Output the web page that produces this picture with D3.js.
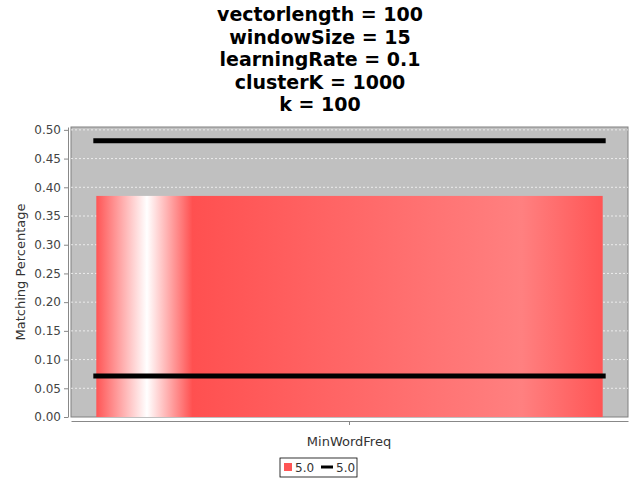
<!DOCTYPE html>
<html><head><meta charset="utf-8">
<script src="https://cdn.jsdelivr.net/npm/d3@7"></script>
<style>body{margin:0;background:#fff}</style>
</head><body>
<div id="chart"></div>
<script>
// chart data
const titleLines = ["vectorlength = 100", "windowSize = 15", "learningRate = 0.1", "clusterK = 1000", "k = 100"];
const categories = ["MinWordFreq"];
const barValues = [0.385];
const lineTop = [0.481];
const lineBottom = [0.0714];
const yTicks = [0, 0.05, 0.1, 0.15, 0.2, 0.25, 0.3, 0.35, 0.4, 0.45, 0.5];

const width = 640, height = 480;
const plot = {left: 71, right: 628, top: 127, bottom: 417};

const svg = d3.select("#chart").append("svg")
    .attr("width", width).attr("height", height)
    .style("font-family", "DejaVu Sans, sans-serif");

// title
svg.append("g").selectAll("text").data(titleLines).enter().append("text")
    .attr("x", 320).attr("y", (d, i) => 21 + i * 22.5)
    .attr("text-anchor", "middle").attr("font-size", "19px").attr("font-weight", "bold")
    .text(d => d);

const y = d3.scaleLinear().domain([0, 0.505]).range([plot.bottom, plot.top]);
const x = d3.scaleBand().domain(categories).range([plot.left, plot.right]).paddingInner(0).paddingOuter(0.05);

// plot background
svg.append("rect").attr("x", plot.left).attr("y", plot.top)
    .attr("width", plot.right - plot.left).attr("height", plot.bottom - plot.top)
    .attr("fill", "#c0c0c0").attr("stroke", "#808080");

// grid
svg.append("g").selectAll("line").data(yTicks.slice(1)).enter().append("line")
    .attr("x1", plot.left).attr("x2", plot.right)
    .attr("y1", d => y(d)).attr("y2", d => y(d))
    .attr("stroke", "#ffffff").attr("stroke-dasharray", "2,2").attr("stroke-width", 0.7);

// gradient for bar
const grad = svg.append("defs").append("linearGradient").attr("id", "barGrad")
    .attr("x1", "0%").attr("x2", "100%").attr("y1", "0%").attr("y2", "0%");
[[0, "#ff5555"], [0.1, "#ffffff"], [0.19, "#ff5050"], [0.84, "#ff8080"], [1, "#ff5555"]]
    .forEach(s => grad.append("stop").attr("offset", s[0]).attr("stop-color", s[1]));

svg.append("g").selectAll("rect").data(barValues).enter().append("rect")
    .attr("x", (d, i) => x(categories[i]))
    .attr("width", x.bandwidth())
    .attr("y", d => y(d)).attr("height", d => y(0) - y(d))
    .attr("fill", "url(#barGrad)");

// black lines
[lineTop, lineBottom].forEach(arr => {
  svg.append("g").selectAll("line").data(arr).enter().append("line")
    .attr("x1", (d, i) => x(categories[i]) - 3)
    .attr("x2", (d, i) => x(categories[i]) + x.bandwidth() + 3)
    .attr("y1", d => y(d)).attr("y2", d => y(d))
    .attr("stroke", "#000").attr("stroke-width", 5);
});

// y axis
const yAxis = svg.append("g").attr("transform", `translate(${plot.left - 3},0)`)
    .call(d3.axisLeft(y).tickValues(yTicks).tickFormat(d3.format(".2f")).tickSize(4).tickSizeOuter(0));
yAxis.selectAll("text").attr("font-size", "12px").attr("fill", "#444").attr("font-family", "DejaVu Sans, sans-serif");
yAxis.selectAll("line").attr("stroke", "#888");
yAxis.select(".domain").attr("stroke", "#888");

svg.append("text").attr("transform", "translate(25,272) rotate(-90)")
    .attr("text-anchor", "middle").attr("font-size", "13px").attr("fill", "#333")
    .text("Matching Percentage");

// x axis
const xAxis = svg.append("g").attr("transform", `translate(0,${plot.bottom + 4})`)
    .call(d3.axisBottom(x.copy().paddingOuter(0)).tickSize(4).tickSizeOuter(0).tickFormat(""));
xAxis.selectAll("line").attr("stroke", "#888");
xAxis.select(".domain").attr("stroke", "#888");

svg.append("text").attr("x", 349).attr("y", 446).attr("text-anchor", "middle")
    .attr("font-size", "13px").attr("fill", "#333").text(categories[0]);

// legend
const lg = svg.append("g");
lg.append("rect").attr("x", 280).attr("y", 458).attr("width", 77).attr("height", 19)
    .attr("fill", "#fff").attr("stroke", "#000").attr("stroke-width", 0.8);
lg.append("rect").attr("x", 284).attr("y", 463).attr("width", 8).attr("height", 8).attr("fill", "#ff5555");
lg.append("text").attr("x", 295).attr("y", 472).attr("font-size", "12px").attr("fill", "#333").text("5.0");
lg.append("line").attr("x1", 321).attr("x2", 333).attr("y1", 467).attr("y2", 467).attr("stroke", "#000").attr("stroke-width", 3);
lg.append("text").attr("x", 336).attr("y", 472).attr("font-size", "12px").attr("fill", "#333").text("5.0");
</script>
</body></html>
